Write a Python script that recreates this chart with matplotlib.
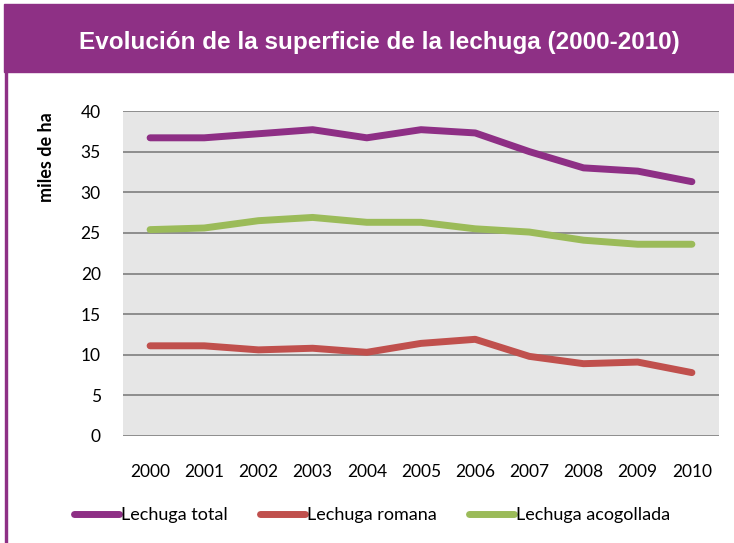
import matplotlib.pyplot as plt
from matplotlib.patches import Rectangle
from matplotlib.lines import Line2D

# datos (miles de ha)
years = ["2000", "2001", "2002", "2003", "2004", "2005",
         "2006", "2007", "2008", "2009", "2010"]
total = [36.7, 36.7, 37.2, 37.7, 36.7, 37.7, 37.3, 35.0, 33.0, 32.6, 31.3]
romana = [11.1, 11.1, 10.6, 10.8, 10.3, 11.4, 11.9, 9.8, 8.9, 9.1, 7.8]
acogollada = [25.4, 25.6, 26.5, 26.9, 26.3, 26.3, 25.5, 25.1, 24.1, 23.6, 23.6]

series_names = ["Lechuga total", "Lechuga romana", "Lechuga acogollada"]
colors = ["#8E2F85", "#C0504D", "#9BBB59"]
yticks = [0, 5, 10, 15, 20, 25, 30, 35, 40]

BAND = "#8E3085"
FONT = "Lato"

fig = plt.figure(figsize=(7.34, 5.43), dpi=100)

# banda del título + borde izquierdo
fig.patches.append(Rectangle((4 / 734, 1 - 72 / 543), 730 / 734, 68 / 543,
                             transform=fig.transFigure, color=BAND, zorder=0))
fig.patches.append(Rectangle((5 / 734, 0), 2 / 734, 1 - 72 / 543,
                             transform=fig.transFigure, color=BAND, zorder=0))
fig.text(379 / 734, 1 - 42 / 543,
         "Evolución de la superficie de la lechuga (2000-2010)",
         color="white", fontsize=17.5, fontweight="bold",
         family="Liberation Sans", ha="center", va="center")

ax = fig.add_axes([123 / 734, 1 - 436 / 543, 596 / 734, 325 / 543])
ax.set_facecolor("#E6E6E6")

x = list(range(len(years)))
for vals, name, c in zip([total, romana, acogollada], series_names, colors):
    ax.plot(x, vals, color=c, lw=5, solid_capstyle="round",
            solid_joinstyle="round", label=name, zorder=3)

ax.set_xlim(-0.5, len(years) - 0.5)
ax.set_ylim(0, 40)
ax.set_yticks(yticks)
ax.set_xticks(x)
ax.set_xticklabels(years)
ax.grid(axis="y", color="#868686", lw=1.3)
ax.set_axisbelow(True)
for s in ax.spines.values():
    s.set_visible(False)
ax.tick_params(length=0)
ax.tick_params(axis="y", pad=16)
ax.tick_params(axis="x", pad=20)
for lab in ax.get_xticklabels() + ax.get_yticklabels():
    lab.set_fontsize(12.5)
    lab.set_family(FONT)

fig.text(46 / 734, 1 - 157 / 543, "miles de ha", rotation=90,
         fontsize=13, fontweight="bold", family=FONT,
         ha="center", va="center")

handles = [Line2D([], [], color=c, lw=5, solid_capstyle="round") for c in colors]
leg = fig.legend(handles, series_names, loc="center",
                 bbox_to_anchor=(372 / 734, 1 - 515 / 543), ncol=3,
                 frameon=False, handlelength=2.5, handletextpad=0.1,
                 columnspacing=1.8, prop={"family": FONT, "size": 13})

fig.savefig("out.png", dpi=100)
